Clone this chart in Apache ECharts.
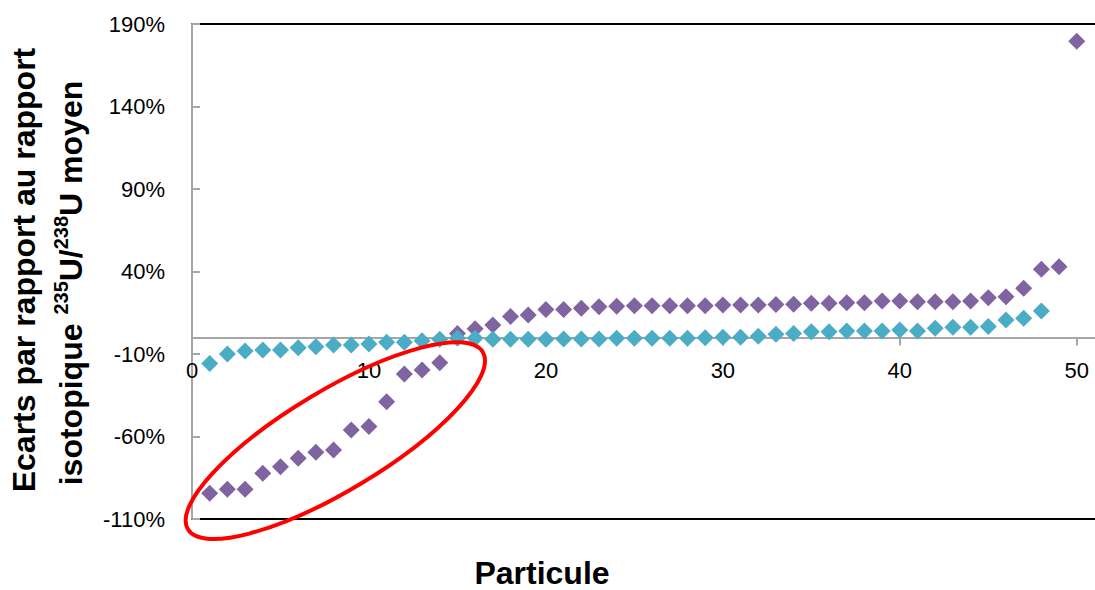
<!DOCTYPE html>
<html>
<head>
<meta charset="utf-8">
<style>html,body{margin:0;padding:0;background:#fff;}#c{width:1095px;height:590px;}</style>
<script src="https://cdn.jsdelivr.net/npm/echarts@6/dist/echarts.min.js"></script>
</head>
<body>
<div id="c"></div>
<script>
// Ecarts (%) by particle
const violetValues = [-94.4, -92, -92, -82.3, -78.3, -73.2, -69.6, -68.2, -56, -54,
  -38.9, -22.1, -19.7, -15.3, 2.5, 5.3, 7.6, 12.8, 13.6, 17,
  17, 17.7, 18.7, 19, 19.3, 19.3, 19.3, 19.3, 19.3, 19.7,
  19.7, 19.7, 20, 20.1, 20.7, 20.7, 21.1, 21.1, 22.1, 22.1,
  21.7, 21.7, 21.7, 22.1, 24.1, 24.7, 29.8, 41.3, 42.9, 179.5];
const cyanValues = [-15.8, -10, -8.2, -7.6, -7.6, -6.2, -5.6, -4.5, -4.5, -3.9,
  -2.9, -2.9, -1.9, -1.1, -0.5, -0.5, -1.1, -1.1, -1.1, -1.1,
  -0.9, -0.9, -0.9, -0.5, -0.5, -0.5, -0.5, -0.5, -0.1, 0.1,
  0.1, 0.8, 2, 2.5, 3.5, 3.5, 3.9, 3.9, 3.9, 4.5,
  3.9, 5.6, 6.2, 6.2, 6.6, 10.6, 11.6, 16.1];
const yTicks = [-110, -60, -10, 40, 90, 140, 190];
const xTicks = [0, 10, 20, 30, 40, 50];

const FONT = 'Liberation Sans';
const chart = echarts.init(document.getElementById('c'), null, {renderer: 'svg'});
const toPairs = arr => arr.map((v, i) => [i + 1, v]);
const gray = '#a6a6a6';

chart.setOption({
  animation: false,
  backgroundColor: '#fff',
  textStyle: {fontFamily: FONT},
  grid: {left: 192, top: 24, right: -3, bottom: 71, outerBoundsMode: 'none', containLabel: false,
         show: true, borderColor: '#000', borderWidth: 2, backgroundColor: 'transparent'},
  xAxis: {
    type: 'value', min: xTicks[0], max: 51.2, interval: 10, position: 'bottom', offset: 0,
    axisLine: {onZero: false, lineStyle: {color: gray, width: 2}},
    axisTick: {show: true, length: 8, lineStyle: {color: gray, width: 2}},
    axisLabel: {margin: 22, fontSize: 22, color: '#000', fontFamily: FONT, showMaxLabel: false},
    splitLine: {show: false}
  },
  yAxis: {
    type: 'value', min: yTicks[0], max: yTicks[yTicks.length - 1], interval: 50,
    axisLine: {show: true, onZero: false, lineStyle: {color: gray, width: 2}},
    axisTick: {show: true, inside: true, length: 8, lineStyle: {color: gray, width: 2}},
    axisLabel: {margin: 27, fontSize: 22, color: '#000', fontFamily: FONT, formatter: '{value}%'},
    splitLine: {show: false}
  },
  series: [
    {type: 'scatter', data: toPairs(violetValues), symbol: 'diamond', symbolSize: 17,
     itemStyle: {color: '#8064A2', opacity: 1}},
    {type: 'scatter', data: toPairs(cyanValues), symbol: 'diamond', symbolSize: 17,
     itemStyle: {color: '#4BACC6', opacity: 1}}
  ]
});

// move the x axis (line, ticks, labels) up to the 0% level
const zeroY = chart.convertToPixel({yAxisIndex: 0}, 0);
const bottomY = chart.convertToPixel({yAxisIndex: 0}, yTicks[0]);
chart.setOption({xAxis: {offset: zeroY - bottomY}});

const ctr = chart.convertToPixel({gridIndex: 0}, [8.1, -62.5]);
chart.setOption({
  graphic: [
    {type: 'ellipse', shape: {cx: 0, cy: 0, rx: 172, ry: 50}, x: ctr[0], y: ctr[1],
     rotation: 31 * Math.PI / 180, style: {fill: 'none', stroke: '#FF0000', lineWidth: 4}, z: 100},
    {type: 'text', x: 24, y: 270, rotation: Math.PI / 2,
     style: {text: 'Ecarts par rapport au rapport', font: 'bold 32px "Liberation Sans"', fill: '#000',
             textAlign: 'center', textVerticalAlign: 'middle'}},
    {type: 'text', x: 69, y: 283, rotation: Math.PI / 2,
     style: {text: '{b|isotopique }{s|235}{b|U/}{s|238}{b|U moyen}', fill: '#000',
             textAlign: 'center', textVerticalAlign: 'middle',
             rich: {
               b: {fontFamily: FONT, fontWeight: 'bold', fontSize: 32, lineHeight: 36, verticalAlign: 'bottom'},
               s: {fontFamily: FONT, fontWeight: 'bold', fontSize: 20, lineHeight: 36, verticalAlign: 'top', padding: [0, 0, 14, 0]}
             }}},
    {type: 'text', x: 542, y: 573,
     style: {text: 'Particule', font: 'bold 32px "Liberation Sans"', lineHeight: 30, fill: '#000',
             textAlign: 'center', textVerticalAlign: 'middle'}}
  ]
});
</script>
</body>
</html>
